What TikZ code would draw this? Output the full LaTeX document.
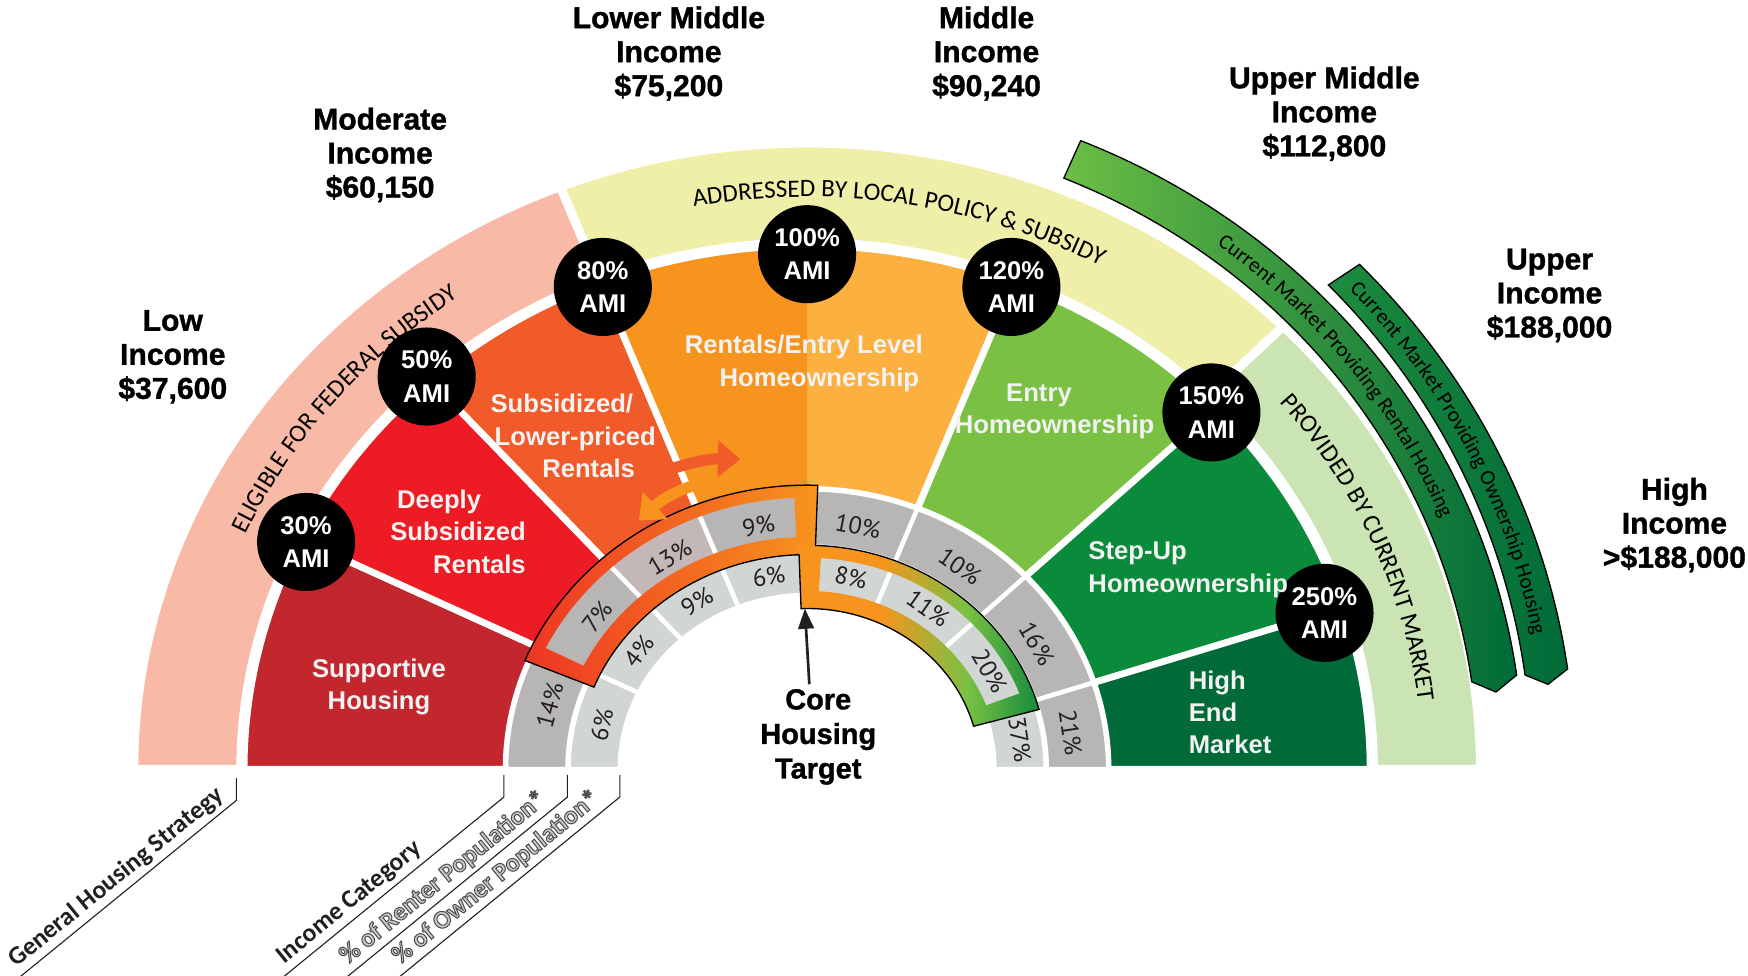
\documentclass[tikz,border=0pt]{standalone}
\usepackage{fontspec}
\setmainfont{Liberation Sans}
\newfontfamily\titlefont{Liberation Sans}
\newfontfamily\headfont{Liberation Sans}[BoldFeatures={FakeBold=1.2}]
\newfontfamily\bandfont{PT Sans}
\newfontfamily\narrowfont{Carlito}
\usetikzlibrary{arrows.meta, decorations.text}

\definecolor{bandpink}{HTML}{F8B9A7}
\definecolor{bandyellow}{HTML}{F0EFAA}
\definecolor{bandgreen}{HTML}{CBE4B3}
\definecolor{supportred}{HTML}{C1272D}
\definecolor{deepred}{HTML}{ED1C24}
\definecolor{subred}{HTML}{F15A29}
\definecolor{rentdark}{HTML}{F7941D}
\definecolor{rentlight}{HTML}{FBB040}
\definecolor{entrygreen}{HTML}{7AC143}
\definecolor{stepgreen}{HTML}{0A8A3B}
\definecolor{highgreen}{HTML}{006B38}
\definecolor{rentergray}{HTML}{B7B6B4}
\definecolor{ownergray}{HTML}{D1D6D4}
\definecolor{tintgray}{HTML}{C4B7B7}
\definecolor{corered}{HTML}{EE3524}
\definecolor{coreorange}{HTML}{F7941D}
\definecolor{coregreen}{HTML}{138A3C}
\definecolor{inkgray}{HTML}{231F20}
\definecolor{mktlight}{HTML}{6CBE45}
\definecolor{mktdark}{HTML}{006B38}
\definecolor{ownleft}{HTML}{1E8C3F}
\definecolor{hollowgray}{HTML}{C9C9C9}

\pgfdeclarehorizontalshading{coreright}{100bp}{color(0bp)=(coreorange); color(25bp)=(coreorange); color(42bp)=(coreorange); color(60bp)=(entrygreen); color(75bp)=(coregreen); color(100bp)=(coregreen)}

% one ring sector: style, from, to, inner, outer
\newcommand{\ringsector}[5]{%
  \filldraw[#1] (#2:#4) arc[start angle=#2, end angle=#3, radius=#4]
    -- (#3:#5) arc[start angle=#3, end angle=#2, radius=#5] -- cycle;}
\newcommand{\hollow}[1]{\special{pdf:literal direct 2 Tr 0.45 w 0.3 G}#1\special{pdf:literal direct 0 Tr}}

\begin{document}
\begin{tikzpicture}[x=0.5pt, y=0.5pt,
    bandsec/.style={draw=white, line width=4pt},
    mainsec/.style={draw=white, line width=3pt},
    cellsec/.style={draw=white, line width=2pt},
    incomehead/.style={align=center, inner sep=0pt, text=black, font=\headfont\bfseries\fontsize{13.5}{15.25}\selectfont},
    seclabel/.style={text=white!95!black, inner sep=0pt, font=\titlefont\bfseries\fontsize{11.5}{14.5}\selectfont},
    ami/.style={circle, fill=black, text=white, minimum size=44pt, inner sep=0pt, align=center, font=\titlefont\bfseries\fontsize{11.5}{15}\selectfont},
    pct/.style={text=inkgray, inner sep=0pt, font=\bandfont\fontsize{11}{13}\selectfont},
    leader/.style={draw=inkgray, line width=0.5pt},
    botlabel/.style={inner sep=2pt, text=inkgray, font=\narrowfont\bfseries\fontsize{11.5}{13}\selectfont},
    mktband/.style={draw=black, line width=0.6pt},
    mkttext/.style={decorate, decoration={text along path, text align=center, text color=black, text={#1}}},
  ]
  \useasboundingbox (-724,-185) rectangle (844,690);

  \begin{scope}[yscale=0.93]
    % outer strategy band
    \ringsector{bandsec, fill=bandpink}{180}{111.5}{508}{604}
    \ringsector{bandsec, fill=bandyellow}{111.5}{45}{508}{604}
    \ringsector{bandsec, fill=bandgreen}{45}{0}{508}{604}
    % income categories
    \ringsector{mainsec, fill=supportred}{180}{154}{270}{505}
    \ringsector{mainsec, fill=deepred}{154}{132}{270}{505}
    \ringsector{mainsec, fill=subred}{132}{111.5}{270}{505}
    \ringsector{mainsec, fill=rentlight}{111.5}{68.5}{270}{505}
    \begin{scope}
      \clip (-520,0) rectangle (0,540);
      \ringsector{mainsec, fill=rentdark}{111.5}{68.5}{270}{505}
    \end{scope}
    \ringsector{mainsec, fill=entrygreen}{68.5}{43.5}{270}{505}
    \ringsector{mainsec, fill=stepgreen}{43.5}{18}{270}{505}
    \ringsector{mainsec, fill=highgreen}{18}{0}{270}{505}
    % renter population ring
    \ringsector{cellsec, fill=rentergray}{180}{154}{215}{270}
    \ringsector{cellsec, fill=rentergray}{154}{132}{215}{270}
    \ringsector{cellsec, fill=tintgray}{132}{111.5}{215}{270}
    \ringsector{cellsec, fill=rentergray}{111.5}{90}{215}{270}
    \ringsector{cellsec, fill=rentergray}{90}{68.5}{215}{270}
    \ringsector{cellsec, fill=rentergray}{68.5}{43.5}{215}{270}
    \ringsector{cellsec, fill=rentergray}{43.5}{18}{215}{270}
    \ringsector{cellsec, fill=rentergray}{18}{0}{215}{270}
    % owner population ring
    \ringsector{cellsec, fill=ownergray}{180}{154}{168}{214}
    \ringsector{cellsec, fill=ownergray}{154}{132}{168}{214}
    \ringsector{cellsec, fill=ownergray}{132}{111.5}{168}{214}
    \ringsector{cellsec, fill=ownergray}{111.5}{90}{168}{214}
    \ringsector{cellsec, fill=ownergray}{90}{68.5}{168}{214}
    \ringsector{cellsec, fill=ownergray}{68.5}{43.5}{168}{214}
    \ringsector{cellsec, fill=ownergray}{43.5}{18}{168}{214}
    \ringsector{cellsec, fill=ownergray}{18}{0}{168}{214}
    % core housing target frame
    \shade[even odd rule, left color=corered, right color=coreorange]
      (157.5:274) arc[start angle=157.5, end angle=88, radius=274] -- (88:207) arc[start angle=88, end angle=157.5, radius=207] -- cycle
      (153.5:262) arc[start angle=153.5, end angle=92.5, radius=262] -- (92.5:224) arc[start angle=92.5, end angle=153.5, radius=224] -- cycle;
    \shade[even odd rule, shading=coreright]
      (92:216) arc[start angle=92, end angle=15.5, radius=216] -- (15.5:155) arc[start angle=15.5, end angle=92, radius=155] -- cycle
      (86.5:204) arc[start angle=86.5, end angle=21, radius=204] -- (21:172) arc[start angle=21, end angle=86.5, radius=172] -- cycle;
    \draw[black, line width=0.6pt]
      (157.5:274) arc[start angle=157.5, end angle=88, radius=274] -- (88:216)
      arc[start angle=88, end angle=15.5, radius=216] -- (15.5:155)
      arc[start angle=15.5, end angle=92, radius=155] -- (92:207)
      arc[start angle=92, end angle=157.5, radius=207] -- cycle;
  \end{scope}

  % current market bands
  \shadedraw[mktband, left color=mktlight, right color=mktdark]
    (67.55:642.7 and 610.1) arc[start angle=67.55, end angle=7.96, x radius=642.7, y radius=610.1]
    -- (6.72:622.2 and 592) -- (7.86:601.8 and 573.9)
    arc[start angle=7.86, end angle=67.5, x radius=601.8, y radius=573.9] -- cycle;
  \shadedraw[mktband, left color=ownleft, right color=mktdark]
    (44:688.8 and 651.9) arc[start angle=44, end angle=7.93, x radius=688.8, y radius=651.9]
    -- (6.85:669.4 and 638.6) -- (7.77:650 and 625.3)
    arc[start angle=7.77, end angle=44, x radius=650, y radius=625.3] -- cycle;

  % texts along the bands
  \path[mkttext={|\narrowfont\fontsize{11.25}{13}\selectfont|ELIGIBLE FOR FEDERAL SUBSIDY}]
    (170:552 and 513.4) arc[start angle=170, end angle=111, x radius=552, y radius=513.4];
  \path[mkttext={|\narrowfont\fontsize{11.25}{13}\selectfont|ADDRESSED BY LOCAL POLICY {\&} SUBSIDY}]
    (111:552 and 513.4) arc[start angle=111, end angle=51, x radius=552, y radius=513.4];
  \path[mkttext={|\narrowfont\fontsize{11.25}{13}\selectfont|PROVIDED BY CURRENT MARKET}]
    (44:552 and 513.4) arc[start angle=44, end angle=2.5, x radius=552, y radius=513.4];
  \path[mkttext={|\narrowfont\fontsize{9.6}{11}\selectfont|Current Market Providing Rental Housing}]
    (67:616 and 586) arc[start angle=67, end angle=8.5, x radius=616, y radius=586];
  \path[mkttext={|\narrowfont\fontsize{9.6}{11}\selectfont|Current Market Providing Ownership Housing}]
    (43.8:663 and 633) arc[start angle=43.8, end angle=10, x radius=663, y radius=633];

  % two-way arrow between rentals
  \coordinate (swapA) at (-78,261);
  \coordinate (swapB) at (-151,223);
  \coordinate (swapC) at (-126,268);
  \coordinate (swapD) at (-60,278);
  \draw[line width=5pt, rentdark, -{Triangle[width=16pt,length=10pt]}] (swapA) to[bend right=15] (swapB);
  \draw[line width=5pt, subred, -{Triangle[width=16pt,length=10pt]}] (swapC) to[bend left=10] (swapD);

  % AMI markers
  \node[ami] (ami30) at (154:500 and 465) {30\%\\AMI};
  \node[ami] (ami50) at (132:510 and 474) {50\%\\AMI};
  \node[ami] (ami80) at (111.5:500 and 465) {80\%\\AMI};
  \node[ami] (ami100) at (90:497 and 462) {100\%\\AMI};
  \node[ami] (ami120) at (68.5:500 and 465) {120\%\\AMI};
  \node[ami] (ami150) at (43.5:500 and 465) {150\%\\AMI};
  \node[ami] (ami250) at (18:488 and 454) {250\%\\AMI};

  % housing types
  \node[seclabel, align=center] (supportive) at (-384,74) {Supportive\\Housing};
  \node[seclabel, align=right, anchor=east] (deeply) at (-252,213) {Deeply\hspace*{20pt}\\Subsidized\\Rentals};
  \node[seclabel, align=center] (subsidized) at (-208,299) {Subsidized/\hspace*{12pt}\\Lower-priced\\\hspace*{12pt}Rentals};
  \node[seclabel, align=center] (rententry) at (4,364) {Rentals/Entry Level\hspace*{7pt}\\\hspace*{7pt}Homeownership};
  \node[seclabel, align=center] (entry) at (215,321) {Entry\hspace*{7pt}\\\hspace*{7pt}Homeownership};
  \node[seclabel, align=left, anchor=west] (stepup) at (252,179) {Step-Up\\Homeownership};
  \node[seclabel, align=left, anchor=west] (highend) at (342,51) {High\\End\\Market};

  % renter shares
  \node[pct, rotate=75] (r14) at (165:239 and 222) {14\%};
  \node[pct, rotate=52] (r7) at (142:239 and 222) {7\%};
  \node[pct, rotate=31] (r13) at (121:239 and 222) {13\%};
  \node[pct, rotate=10.5] (r9) at (100.5:239 and 222) {9\%};
  \node[pct, rotate=-11] (r10a) at (79:239 and 222) {10\%};
  \node[pct, rotate=-35] (r10b) at (55:239 and 222) {10\%};
  \node[pct, rotate=-59.5] (r16) at (30.5:239 and 222) {16\%};
  \node[pct, rotate=-81.5] (r21) at (8.5:239 and 222) {21\%};
  % owner shares
  \node[pct, rotate=77] (o6a) at (167:189 and 176) {6\%};
  \node[pct, rotate=53] (o4) at (143:189 and 176) {4\%};
  \node[pct, rotate=31.5] (o9) at (121.5:189 and 176) {9\%};
  \node[pct, rotate=10.5] (o6b) at (100.5:189 and 176) {6\%};
  \node[pct, rotate=-12] (o8) at (78:189 and 176) {8\%};
  \node[pct, rotate=-35] (o11) at (55:189 and 176) {11\%};
  \node[pct, rotate=-60] (o20) at (30:189 and 176) {20\%};
  \node[pct, rotate=-81.5] (o37) at (8.5:193 and 180) {37\%};

  % core target
  \node[align=center, inner sep=2pt, font=\headfont\bfseries\fontsize{13}{15.5}\selectfont] (core) at (10,29) {Core\\Housing\\Target};
  \coordinate (coretip) at (-2,144);
  \draw[inkgray, line width=1.2pt, -{Triangle[width=7pt,length=9pt]}] ([xshift=-4pt]core.north) -- (coretip);

  % income levels
  \node[incomehead] (low) at (-569,370) {Low\\Income\\\$37,600};
  \node[incomehead] (moderate) at (-383,551) {Moderate\\Income\\\$60,150};
  \node[incomehead] (lowermid) at (-124,642) {Lower Middle\\Income\\\$75,200};
  \node[incomehead] (middle) at (161,642) {Middle\\Income\\\$90,240};
  \node[incomehead] (uppermid) at (464,588) {Upper Middle\\Income\\\$112,800};
  \node[incomehead] (upper) at (666,425) {Upper\\Income\\\$188,000};
  \node[incomehead] (high) at (778,219) {High\\Income\\>\$188,000};

  % ring legend
  \coordinate (stratA) at (-512,-8);
  \coordinate (stratB) at (-512,-28);
  \coordinate (stratC) at (-729,-205);
  \coordinate (incA) at (-272,-5);
  \coordinate (incB) at (-272,-25);
  \coordinate (incC) at (-489,-202);
  \coordinate (rentA) at (-215,-5);
  \coordinate (rentB) at (-215,-25);
  \coordinate (rentC) at (-432,-202);
  \coordinate (ownA) at (-168,-5);
  \coordinate (ownB) at (-168,-25);
  \coordinate (ownC) at (-385,-202);
  \draw[leader] (stratA) -- (stratB) -- (stratC);
  \draw[leader] (incA) -- (incB) -- (incC);
  \draw[leader] (rentA) -- (rentB) -- (rentC);
  \draw[leader] (ownA) -- (ownB) -- (ownC);
  \path (stratC) -- node[botlabel, pos=0.1, sloped, anchor=south west] (stratlabel) {General Housing Strategy} (stratB);
  \path (incC) -- node[botlabel, pos=0.1, sloped, anchor=south west] (inclabel) {Income Category} (incB);
  \path (rentC) -- node[botlabel, pos=0.1, sloped, anchor=south west, text=hollowgray] (rentlabel) {\hollow{\% of Renter Population*}} (rentB);
  \path (ownC) -- node[botlabel, pos=0.1, sloped, anchor=south west, text=hollowgray] (ownlabel) {\hollow{\% of Owner Population*}} (ownB);
\end{tikzpicture}
\end{document}
